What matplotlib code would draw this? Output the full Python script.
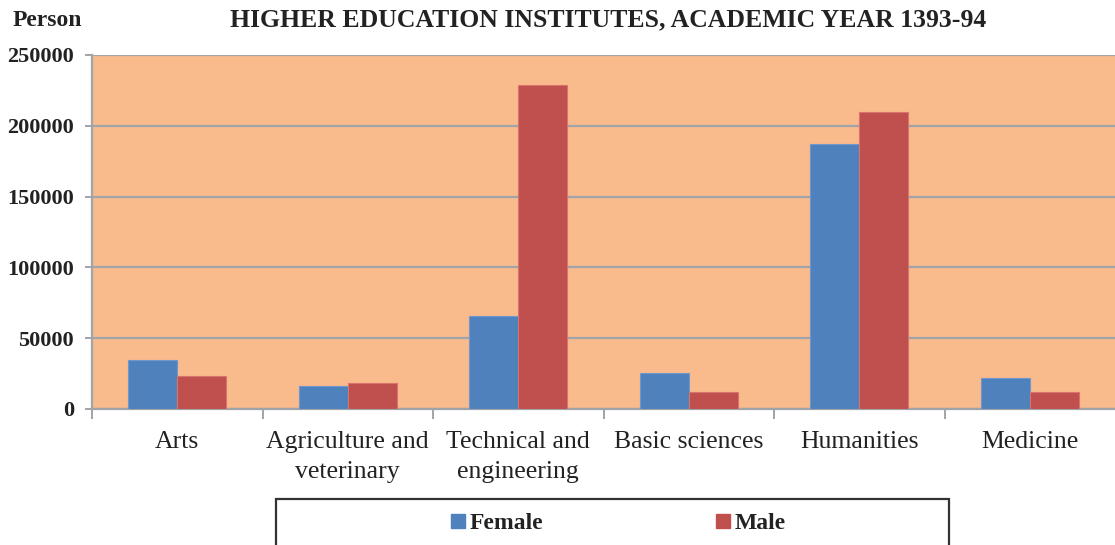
import matplotlib
matplotlib.use("Agg")
import matplotlib.pyplot as plt
from matplotlib.patches import Rectangle
from matplotlib.lines import Line2D
import numpy as np

# Data
categories = ["Arts", "Agriculture and\nveterinary", "Technical and\nengineering",
              "Basic sciences", "Humanities", "Medicine"]
female = [34800, 16000, 65900, 25400, 187400, 22100]
male = [23300, 18100, 229000, 12000, 209700, 12000]
yticks = [0, 50000, 100000, 150000, 200000, 250000]

plt.rcParams['font.family'] = ['Liberation Serif', 'DejaVu Serif']

blue = '#4F81BD'
red = '#C0504D'
grid_col = '#A0A3A8'

fig = plt.figure(figsize=(11.15, 5.45), dpi=100)
ax = fig.add_axes([92 / 1115, 1 - 409 / 545, 1 - 92 / 1115, (409 - 55) / 545])
ax.set_facecolor('#F9BA8C')

x = np.arange(len(categories))
w = 0.287
ax.bar(x - w / 2, female, w, color=blue, edgecolor='#6F97CC', linewidth=0.8, zorder=3)
ax.bar(x + w / 2, male, w, color=red, edgecolor='#D9736F', linewidth=0.8, zorder=3)

ax.set_xlim(-0.5, len(categories) - 0.5)
ax.set_ylim(0, 250000)
ax.set_yticks(yticks)
ax.set_yticklabels([str(v) for v in yticks], fontsize=16, fontweight='bold', color='#222222')
ax.yaxis.grid(True, color=grid_col, linewidth=1.6, zorder=1)
ax.set_axisbelow(True)

ax.set_xticks(x)
ax.set_xticklabels(categories, fontsize=18.5, linespacing=1.45, color='#222222')
ax.set_xticks(np.arange(-0.5, len(categories) - 0.5, 1), minor=True)
ax.tick_params(axis='x', which='major', length=0, pad=16)
ax.tick_params(axis='x', which='minor', length=7, width=1.4, color=grid_col)
ax.tick_params(axis='y', length=5, width=1.4, color=grid_col, pad=8)

for s in ['top', 'right']:
    ax.spines[s].set_visible(False)
for s in ['left', 'bottom']:
    ax.spines[s].set_color(grid_col)
    ax.spines[s].set_linewidth(1.6)

fig.text(608 / 1115, 1 - 20 / 545, "HIGHER EDUCATION INSTITUTES, ACADEMIC YEAR 1393-94",
         ha='center', va='center', fontsize=18.5, fontweight='bold', color='#222222')
fig.text(13 / 1115, 1 - 20 / 545, "Person", ha='left', va='center',
         fontsize=17, fontweight='bold', color='#222222')

# legend frame (bottom is cut off by the figure edge)
fig.patches.append(Rectangle((276 / 1115, -0.1), (949 - 276) / 1115, 0.1 + (545 - 499) / 545,
                             transform=fig.transFigure, fill=False, edgecolor='#333333',
                             linewidth=1.6))
handles = [Line2D([], [], marker='s', linestyle='none', markersize=9.5, color=blue),
           Line2D([], [], marker='s', linestyle='none', markersize=9.5, color=red)]
fig.legend(handles, ["Female", "Male"], ncol=2, frameon=False,
           loc='center', bbox_to_anchor=(618 / 1115, 1 - 523 / 545),
           prop={'size': 17, 'weight': 'bold'}, handlelength=0.6, handletextpad=0.2,
           columnspacing=7.3, borderpad=0, labelcolor='#222222')

fig.savefig("out.png", dpi=100)
